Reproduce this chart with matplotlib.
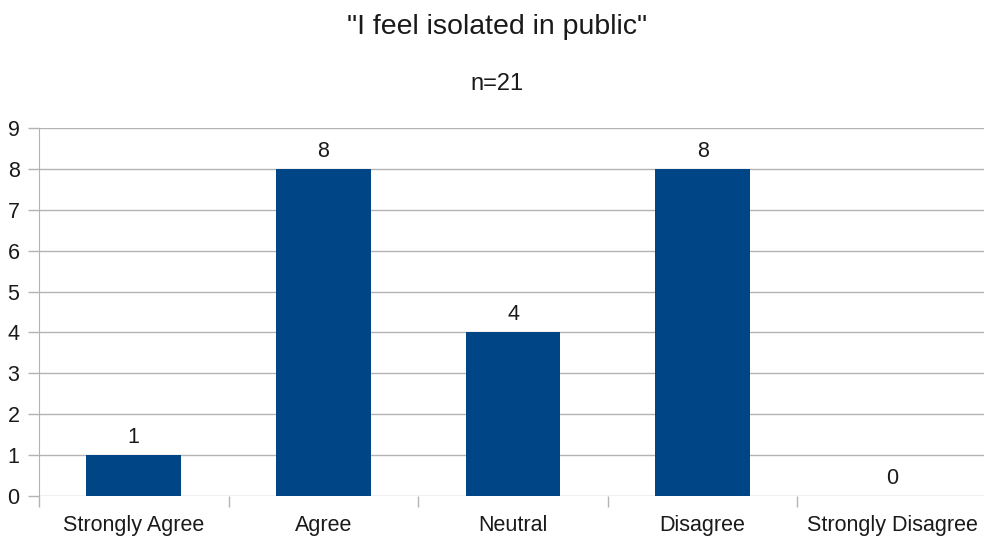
import matplotlib.pyplot as plt
import numpy as np

categories = ["Strongly Agree", "Agree", "Neutral", "Disagree", "Strongly Disagree"]
counts = [1, 8, 4, 8, 0]
y_ticks = list(range(0, 10))

plt.rcParams['font.family'] = ['Liberation Sans', 'DejaVu Sans']

fig = plt.figure(figsize=(9.84, 5.39), dpi=100)
ax = fig.add_axes([0.0396, 0.0798, 0.9635, 0.6827])

x = np.arange(len(categories))
bars = ax.bar(x, counts, width=0.5, color='#004586', zorder=3)

# value labels above each bar
for xi, v in zip(x, counts):
    ax.annotate(str(v), (xi, v), xytext=(0, 5), textcoords='offset points',
                ha='center', va='bottom', fontsize=15.5, color='#1a1a1a')

ax.set_xlim(-0.5, len(categories) - 0.5)
ax.set_ylim(0, 9)
ax.set_yticks(y_ticks)
ax.yaxis.grid(True, color='#b3b3b3', linewidth=1, zorder=0)

ax.set_xticks(x)
ax.set_xticklabels(categories, fontsize=15.5, color='#1a1a1a')
ax.set_xticks(np.arange(len(categories) + 1) - 0.5, minor=True)
ax.tick_params(axis='x', which='major', length=0, pad=14)
ax.tick_params(axis='x', which='minor', length=8, color='#b3b3b3', width=1)
ax.tick_params(axis='y', length=8, color='#b3b3b3', width=1, labelsize=15.5,
               labelcolor='#1a1a1a', pad=6)

for side in ['top', 'right', 'bottom']:
    ax.spines[side].set_visible(False)
ax.spines['left'].set_color('#b3b3b3')

fig.text(0.505, 0.950, '"I feel isolated in public"', ha='center', va='center',
         fontsize=20.5, color='#1a1a1a')
fig.text(0.505, 0.844, 'n=21', ha='center', va='center', fontsize=17, color='#1a1a1a')

plt.savefig('out.png', dpi=100)
